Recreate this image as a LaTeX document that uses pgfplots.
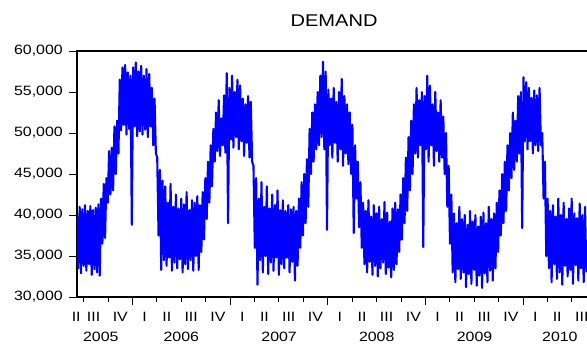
\documentclass[border=0pt]{standalone}
\usepackage{fontspec}
\setmainfont{Liberation Sans}[FakeStretch=1.18]
\usepackage{pgfplots}
\pgfplotsset{compat=1.18}
\usepackage{pgfplotstable}
\newcommand{\ticksize}{\fontsize{13.5bp}{16bp}\selectfont}
\newcommand{\titlesize}{\fontsize{17bp}{20bp}\selectfont}
\newcommand{\qlab}[2]{\node[anchor=base,font=\ticksize,inner sep=0pt] at ([yshift=-24.7bp]axis cs:#1,30000) {#2};}
\newcommand{\ylab}[2]{\node[anchor=base,font=\ticksize,inner sep=0pt] at ([yshift=-44.3bp]axis cs:#1,30000) {#2};}

% daily electricity demand, day 0 = early June 2005
\pgfplotstableread[row sep=\\]{
day demand\\
0 39800\\ 5 33500\\ 10 41000\\ 15 32900\\ 20 40700\\ 25 33800\\ 30 41200\\ 35 33200\\ 40 40500\\ 45 34000\\
50 41100\\ 55 32700\\ 60 40600\\ 65 33400\\ 70 40900\\ 75 33000\\ 80 41300\\ 85 32600\\ 90 42000\\ 95 36500\\
100 43800\\ 105 37200\\ 110 44500\\ 115 41500\\ 120 47800\\ 125 42500\\ 130 48200\\ 135 43000\\ 140 50800\\ 145 45000\\
150 51500\\ 155 47500\\ 160 56500\\ 165 50300\\ 170 58000\\ 175 51000\\ 180 58300\\ 185 49800\\ 190 57400\\ 195 50500\\
200 57000\\ 205 38800\\ 210 58000\\ 215 50800\\ 220 58600\\ 225 49600\\ 230 57500\\ 235 50200\\ 240 58200\\ 245 49800\\
250 57000\\ 255 50400\\ 260 57800\\ 265 49500\\ 270 57200\\ 275 50800\\ 280 55500\\ 285 48500\\ 290 54200\\ 295 47500\\
300 47000\\ 305 37500\\ 310 45500\\ 315 33300\\ 320 44200\\ 325 34500\\ 330 43500\\ 335 33800\\ 340 41500\\ 345 34800\\
350 43800\\ 355 33200\\ 360 41000\\ 365 34200\\ 370 42500\\ 375 33500\\ 380 40800\\ 385 34600\\ 390 42000\\ 395 33000\\
400 41300\\ 405 34000\\ 410 42800\\ 415 33400\\ 420 40600\\ 425 34500\\ 430 41800\\ 435 33200\\ 440 41500\\ 445 35000\\
450 42300\\ 455 33300\\ 460 41200\\ 465 35500\\ 470 42800\\ 475 37000\\ 480 44500\\ 485 39500\\ 490 46500\\ 495 41500\\
500 48500\\ 505 43500\\ 510 50500\\ 515 46500\\ 520 52500\\ 525 47800\\ 530 54000\\ 535 47200\\ 540 51800\\ 545 48500\\
550 54600\\ 555 47600\\ 560 57300\\ 565 39000\\ 570 55500\\ 575 49200\\ 580 57000\\ 585 48200\\ 590 55000\\ 595 49500\\
600 56500\\ 605 48000\\ 610 55800\\ 615 49000\\ 620 54200\\ 625 47200\\ 630 53500\\ 635 48800\\ 640 54500\\ 645 47000\\
650 53800\\ 655 46500\\ 660 46000\\ 665 36000\\ 670 44500\\ 675 31500\\ 680 42000\\ 685 34500\\ 690 44000\\ 695 33000\\
700 41000\\ 705 35000\\ 710 43500\\ 715 32800\\ 720 40800\\ 725 34200\\ 730 42500\\ 735 33200\\ 740 41200\\ 745 34800\\
750 43000\\ 755 32700\\ 760 40600\\ 765 34000\\ 770 41800\\ 775 33500\\ 780 40500\\ 785 34800\\ 790 41200\\ 795 33000\\
800 40700\\ 805 34300\\ 810 41000\\ 815 32000\\ 820 40500\\ 825 33800\\ 830 42000\\ 835 36000\\ 840 44000\\ 845 37500\\
850 45000\\ 855 39000\\ 860 46800\\ 865 41000\\ 870 50500\\ 875 45000\\ 880 52500\\ 885 46500\\ 890 53500\\ 895 48000\\
900 55000\\ 905 48500\\ 910 57000\\ 915 49500\\ 920 58700\\ 925 48000\\ 930 57500\\ 935 38200\\ 940 55300\\ 945 48500\\
950 54200\\ 955 47000\\ 960 55500\\ 965 48800\\ 970 53800\\ 975 46500\\ 980 55000\\ 985 48000\\ 990 56600\\ 995 46000\\
1000 54500\\ 1005 47500\\ 1010 53500\\ 1015 46200\\ 1020 52500\\ 1025 45000\\ 1030 51000\\ 1035 37800\\ 1040 48500\\ 1045 42000\\
1050 46500\\ 1055 38500\\ 1060 44000\\ 1065 36000\\ 1070 41500\\ 1075 34000\\ 1080 40500\\ 1085 33000\\ 1090 41800\\ 1095 34300\\
1100 39800\\ 1105 32700\\ 1110 41200\\ 1115 33800\\ 1120 40200\\ 1125 32500\\ 1130 41000\\ 1135 33500\\ 1140 39500\\ 1145 34200\\
1150 41600\\ 1155 32800\\ 1160 40300\\ 1165 33600\\ 1170 39200\\ 1175 32400\\ 1180 40800\\ 1185 33300\\ 1190 41500\\ 1195 34000\\
1200 40700\\ 1205 35500\\ 1210 42500\\ 1215 37000\\ 1220 44500\\ 1225 39000\\ 1230 47000\\ 1235 40500\\ 1240 49500\\ 1245 43000\\
1250 51500\\ 1255 45000\\ 1260 53500\\ 1265 47500\\ 1270 55500\\ 1275 47000\\ 1280 54000\\ 1285 48500\\ 1290 55000\\ 1295 36100\\
1300 54500\\ 1305 48000\\ 1310 57000\\ 1315 46500\\ 1320 55800\\ 1325 48500\\ 1330 53500\\ 1335 46000\\ 1340 55000\\ 1345 47800\\
1350 52500\\ 1355 46500\\ 1360 54000\\ 1365 47000\\ 1370 52000\\ 1375 45000\\ 1380 50000\\ 1385 41000\\ 1390 46000\\ 1395 36500\\
1400 42500\\ 1405 33000\\ 1410 40200\\ 1415 31800\\ 1420 39000\\ 1425 33400\\ 1430 41000\\ 1435 32200\\ 1440 39500\\ 1445 33000\\
1450 40000\\ 1455 31200\\ 1460 38800\\ 1465 32800\\ 1470 40500\\ 1475 31600\\ 1480 39200\\ 1485 33300\\ 1490 40000\\ 1495 31400\\
1500 38600\\ 1505 32600\\ 1510 39800\\ 1515 31100\\ 1520 40300\\ 1525 32900\\ 1530 39000\\ 1535 31800\\ 1540 41000\\ 1545 33200\\
1550 39500\\ 1555 32000\\ 1560 40200\\ 1565 33500\\ 1570 41500\\ 1575 35500\\ 1580 43000\\ 1585 37500\\ 1590 45000\\ 1595 39000\\
1600 46500\\ 1605 40500\\ 1610 48500\\ 1615 43000\\ 1620 50000\\ 1625 44500\\ 1630 52500\\ 1635 45500\\ 1640 51500\\ 1645 46500\\
1650 54500\\ 1655 47500\\ 1660 55000\\ 1665 38400\\ 1670 56800\\ 1675 49000\\ 1680 56200\\ 1685 48000\\ 1690 55500\\ 1695 49000\\
1700 54300\\ 1705 47500\\ 1710 55200\\ 1715 48500\\ 1720 54600\\ 1725 47800\\ 1730 55500\\ 1735 48500\\ 1740 50000\\ 1745 42000\\
1750 46500\\ 1755 35000\\ 1760 42000\\ 1765 33500\\ 1770 40500\\ 1775 31800\\ 1780 41200\\ 1785 34000\\ 1790 39800\\ 1795 32200\\
1800 42000\\ 1805 33000\\ 1810 40000\\ 1815 31500\\ 1820 41500\\ 1825 33800\\ 1830 39500\\ 1835 32500\\ 1840 40800\\ 1845 33300\\
1850 42000\\ 1855 31600\\ 1860 40200\\ 1865 33900\\ 1870 39600\\ 1875 32000\\ 1880 41400\\ 1885 33500\\ 1890 40000\\ 1895 31800\\
1900 41000\\ 1905 33000\\
}\demand

\begin{document}
\begin{tikzpicture}
\begin{axis}[
  scale only axis,
  width=511.5bp, height=246bp,
  xmin=0, xmax=1913, ymin=30000, ymax=60000,
  enlargelimits=false,
  axis line style={line width=1.2bp},
  tick align=outside,
  xtick pos=bottom, ytick pos=left,
  xtick={208,573,938,1304,1669},
  xticklabels={},
  minor xtick={24,116,298,389,481,663,754,846,1029,1120,1212,1394,1485,1577,1759,1850},
  major tick length=8bp, minor tick length=4.5bp,
  tick style={black, line width=0.9bp},
  ytick={30000,35000,40000,45000,50000,55000,60000},
  scaled y ticks=false,
  /pgf/number format/1000 sep={,},
  /pgf/number format/assume math mode=true,
  yticklabel style={font=\ticksize, anchor=east, inner sep=0pt, xshift=-6bp},
  clip mode=individual,
]
\addplot[blue, line width=2.1bp, mark=none, line join=round] table[x=day, y=demand] {\demand};
\coordinate (A) at (rel axis cs:0,0);
\node[anchor=base, font=\titlesize, inner sep=0pt] at ([xshift=1.3bp, yshift=24.3bp]rel axis cs:0.5,1) {DEMAND};
\qlab{-3}{II}
\qlab{62}{III}\qlab{162}{IV}\qlab{253}{I}\qlab{336}{II}\qlab{427}{III}\qlab{527}{IV}\qlab{618}{I}
\qlab{701}{II}\qlab{792}{III}\qlab{892}{IV}\qlab{983}{I}\qlab{1066}{II}\qlab{1158}{III}\qlab{1258}{IV}\qlab{1349}{I}
\qlab{1431}{II}\qlab{1523}{III}\qlab{1623}{IV}\qlab{1714}{I}\qlab{1796}{II}\qlab{1888}{III}
\ylab{89}{2005}\ylab{390}{2006}\ylab{756}{2007}\ylab{1121}{2008}\ylab{1487}{2009}\ylab{1806}{2010}
\end{axis}
\pgfresetboundingbox
\path (A) ++(-77bp,-47bp) rectangle ++(587bp,344bp);
\end{tikzpicture}
\end{document}
